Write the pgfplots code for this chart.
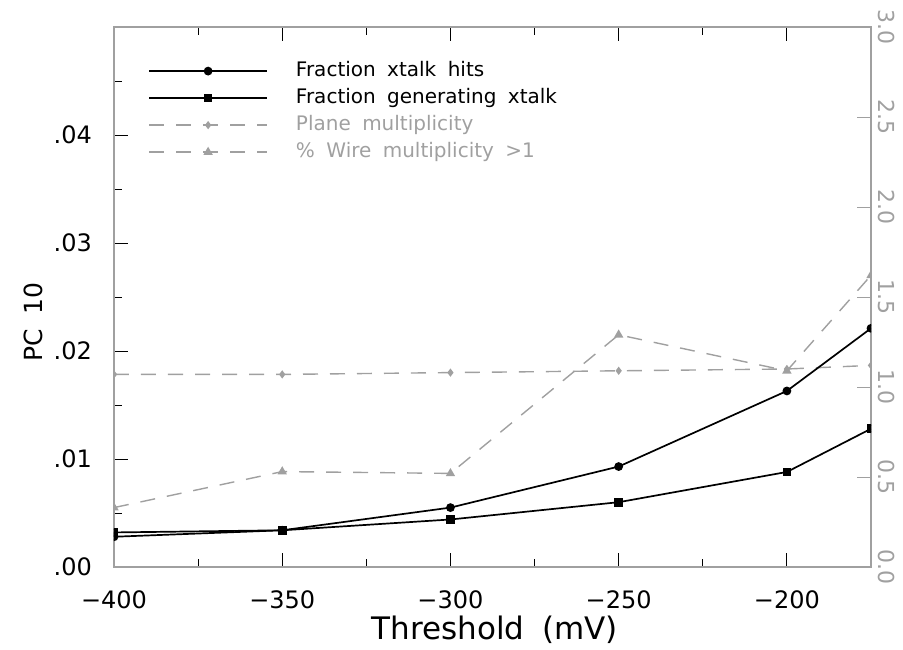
\documentclass[border=0pt]{standalone}
\usepackage{pgfplots}
\pgfplotsset{compat=1.18}
\usepackage{fontspec}
\setmainfont[WordSpace=1.8]{DejaVu Sans}
\definecolor{lgray}{RGB}{160,160,160}

\pgfplotsset{
  common/.style={
    at={(0,0)}, anchor=south west,
    scale only axis, width=757pt, height=540pt,
    xmin=-400, xmax=-175,
    clip marker paths=true,
    axis line style={lgray, line width=1.2pt},
    tick align=inside,
    major tick length=14pt, minor tick length=8pt,
  },
}

\begin{document}
\begin{tikzpicture}
% right-hand scale: multiplicities
\begin{axis}[common,
  ymin=0, ymax=3,
  axis x line=none, axis y line*=right,
  ytick={0,0.5,1,1.5,2,2.5,3},
  yticklabels={0.0,0.5,1.0,1.5,2.0,2.5,3.0},
  y tick style={lgray, line width=1pt},
  yticklabel style={rotate=-90, anchor=south, inner xsep=0pt, inner ysep=7pt,
    text=lgray, font=\fontsize{22}{26}\selectfont},
]
\addplot[lgray, line width=1.4pt, dash pattern=on 15pt off 12pt,
  mark=diamond*, mark size=3pt, mark options={solid}]
  coordinates {(-400,1.07) (-350,1.07) (-300,1.08) (-250,1.09) (-200,1.10) (-175,1.12)};
\addplot[lgray, line width=1.4pt, dash pattern=on 15pt off 12pt,
  mark=triangle*, mark size=4pt, mark options={solid}]
  coordinates {(-400,0.33) (-350,0.53) (-300,0.52) (-250,1.29) (-200,1.09) (-175,1.62)};
\end{axis}

% left-hand scale: crosstalk fractions
\begin{axis}[common,
  ymin=0, ymax=0.05,
  scaled y ticks=false,
  xtick={-400,-350,-300,-250,-200},
  xticklabels={−400,−350,−300,−250,−200},
  minor xtick={-375,-325,-275,-225},
  xtick pos=both, ytick pos=left,
  ytick={0,0.01,0.02,0.03,0.04},
  yticklabels={.00,.01,.02,.03,.04},
  minor ytick={0.005,0.015,0.025,0.035,0.045},
  tick style={black, line width=1pt},
  xticklabel style={anchor=center, yshift=-33pt, font=\fontsize{24}{28}\selectfont},
  yticklabel style={anchor=east, inner sep=0pt, xshift=-22pt, font=\fontsize{24}{28}\selectfont},
  xlabel={Threshold (mV)},
  ylabel={PC 10},
  xlabel style={at={(axis description cs:0.503,-0.117)}, anchor=center,
    font=\fontsize{31}{34}\selectfont},
  ylabel style={at={(axis description cs:-0.107,0.454)}, anchor=center,
    font=\fontsize{25}{28}\selectfont},
  legend style={at={(axis description cs:0.045,0.94)}, anchor=north west,
    draw=none, fill=none, inner sep=0pt, row sep=4pt,
    font=\fontsize{20}{24}\selectfont,
    nodes={inner sep=2pt, text height=14.6pt, text depth=4.4pt},
    /tikz/every odd column/.append style={column sep=26pt}},
  legend cell align=left,
  legend image code/.code={
    \draw[mark repeat=2, mark phase=2, #1]
      plot coordinates {(0pt,0pt) (59pt,0pt) (118pt,0pt)};
  },
]
\addplot[black, line width=1.7pt, mark=*, mark size=3.5pt]
  coordinates {(-400,0.0028) (-350,0.0034) (-300,0.0055) (-250,0.0093) (-200,0.0163) (-175,0.0221)};
\addlegendentry{Fraction xtalk hits}
\addplot[black, line width=1.7pt, mark=square*, mark size=3.5pt]
  coordinates {(-400,0.0032) (-350,0.0034) (-300,0.0044) (-250,0.0060) (-200,0.0088) (-175,0.0128)};
\addlegendentry{Fraction generating xtalk}
\addlegendimage{lgray, line width=1.4pt, dash pattern=on 15pt off 12pt,
  mark=diamond*, mark size=3pt, mark options={solid}}
\addlegendentry{\textcolor{lgray}{Plane multiplicity}}
\addlegendimage{lgray, line width=1.4pt, dash pattern=on 15pt off 12pt,
  mark=triangle*, mark size=4pt, mark options={solid}}
\addlegendentry{\textcolor{lgray}{\% Wire multiplicity >1}}
\end{axis}

\pgfresetboundingbox
\path (-114pt,-82pt) rectangle (789pt,567pt);
\end{tikzpicture}
\end{document}
